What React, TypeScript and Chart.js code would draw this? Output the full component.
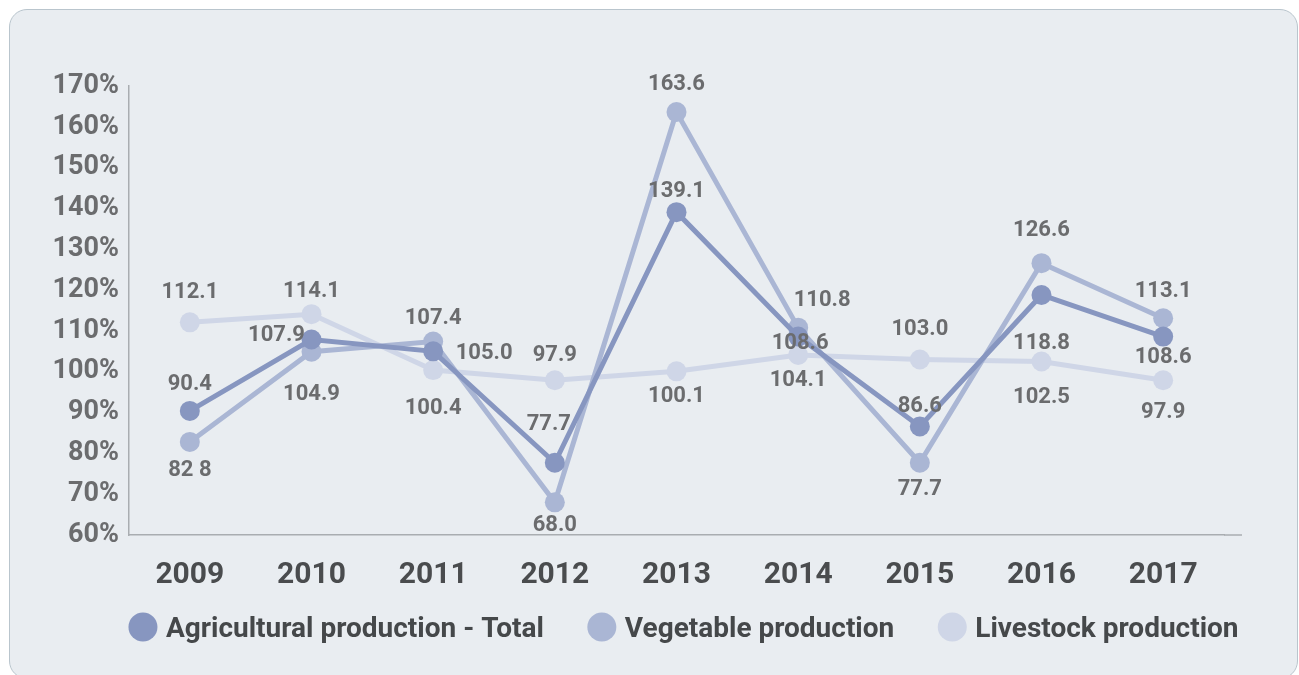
import React, { useEffect, useRef } from "react";
import { Chart, registerables } from "chart.js";

Chart.register(...registerables);

const years = ["2009", "2010", "2011", "2012", "2013", "2014", "2015", "2016", "2017"];
const totalValues = [90.4, 107.9, 105.0, 77.7, 139.1, 108.6, 86.6, 118.8, 108.6];
const vegetableValues = [82.8, 104.9, 107.4, 68.0, 163.6, 110.8, 77.7, 126.6, 113.1];
const livestockValues = [112.1, 114.1, 100.4, 97.9, 100.1, 104.1, 103.0, 102.5, 97.9];
const seriesNames = ["Agricultural production - Total", "Vegetable production", "Livestock production"];
const yMin = 60;
const yMax = 170;
const yStep = 10;
// label text overrides as printed in the source
const labelTextOverrides: Record<string, string> = { "1-0": "82 8" };

const seriesColors = ["#8796c0", "#aab6d4", "#cfd6e7"];

// label placement relative to each point (dx, dy in px)
const labelOffsets: number[][][] = [
  [[0, -29], [-35, -6], [51, 0], [-6, -41], [0, -23], [2, 4], [0, -22], [0, 46], [0, 18]],
  [[0, 26], [0, 40], [0, -25], [0, 21], [0, -30], [24, -30], [0, 24], [0, -35], [0, -29]],
  [[0, -32], [0, -25], [0, 36], [0, -27], [0, 23], [0, 23], [0, -32], [0, 34], [0, 30]],
];

const FONT = "Roboto, 'Open Sans', sans-serif";
const AXIS_COLOR = "#a9adb1";

const axisExtensionPlugin = {
  id: "axisExtension",
  afterDraw(chart: any) {
    const ctx = chart.ctx;
    const a = chart.chartArea;
    ctx.save();
    ctx.strokeStyle = AXIS_COLOR;
    ctx.lineWidth = 1.5;
    ctx.beginPath();
    ctx.moveTo(a.right, a.bottom);
    ctx.lineTo(a.right + 18, a.bottom);
    ctx.stroke();
    ctx.restore();
  },
};

const dataLabelPlugin = {
  id: "dataLabels",
  afterDatasetsDraw(chart: any) {
    const ctx = chart.ctx;
    ctx.save();
    const size = 22;
    ctx.font = `bold ${size}px ${FONT}`;
    ctx.fillStyle = "#6b6c6e";
    ctx.textAlign = "center";
    ctx.textBaseline = "alphabetic";
    chart.data.datasets.forEach((ds: any, di: number) => {
      const meta = chart.getDatasetMeta(di);
      meta.data.forEach((pt: any, i: number) => {
        const [dx, dy] = labelOffsets[di][i];
        const v = ds.data[i] as number;
        const text = labelTextOverrides[`${di}-${i}`] ?? v.toFixed(1);
        ctx.fillText(text, pt.x + dx, pt.y + dy + size * 0.36);
      });
    });
    ctx.restore();
  },
};

const legendPlugin = {
  id: "customLegend",
  afterDraw(chart: any) {
    const ctx = chart.ctx;
    const area = chart.chartArea;
    ctx.save();
    const size = 28;
    ctx.font = `bold ${size}px ${FONT}`;
    const r = 14.5;
    const textGap = 23;
    const itemGap = 58;
    const ds = chart.data.datasets;
    const widths = ds.map((d: any) => ctx.measureText(d.label).width);
    let total = 0;
    widths.forEach((w: number, i: number) => {
      total += r + textGap + w;
      if (i < widths.length - 1) total += itemGap - r;
    });
    const cy = area.bottom + 92;
    let x = (area.left + area.right) / 2 + 7 - total / 2;
    ds.forEach((d: any, i: number) => {
      const cx = x + r;
      ctx.beginPath();
      ctx.arc(cx, cy, r, 0, Math.PI * 2);
      ctx.fillStyle = d.pointBackgroundColor;
      ctx.fill();
      ctx.fillStyle = "#45484a";
      ctx.textAlign = "left";
      ctx.textBaseline = "alphabetic";
      ctx.fillText(d.label, cx + textGap, cy + size * 0.36);
      x = cx + textGap + widths[i] + itemGap - r;
    });
    ctx.restore();
  },
};

export default function App() {
  const canvasRef = useRef<HTMLCanvasElement | null>(null);

  useEffect(() => {
    document.documentElement.style.overflow = "hidden";
    const canvas = canvasRef.current;
    if (!canvas) return;
    const valueSets = [totalValues, vegetableValues, livestockValues];
    const chart = new Chart(canvas, {
      type: "line",
      data: {
        labels: years,
        datasets: valueSets.map((vals, i) => ({
          label: seriesNames[i],
          data: vals,
          borderColor: seriesColors[i],
          backgroundColor: seriesColors[i],
          pointBackgroundColor: seriesColors[i],
          pointBorderColor: seriesColors[i],
          pointRadius: 10,
          pointHoverRadius: 10,
          pointBorderWidth: 0,
          borderWidth: 5,
          tension: 0,
          fill: false,
          clip: false as any,
        })),
      },
      options: {
        animation: false,
        responsive: true,
        maintainAspectRatio: false,
        layout: { padding: { top: 76, right: 73, bottom: 93, left: 0 } },
        plugins: {
          legend: { display: false },
          tooltip: { enabled: false },
          title: { display: false },
        },
        scales: {
          x: {
            offset: true,
            grid: { display: false, drawTicks: false },
            border: { display: true, color: AXIS_COLOR, width: 1.5 },
            ticks: {
              color: "#4a4c4e",
              font: { family: FONT, size: 30, weight: "bold" },
              padding: 22,
            },
            afterFit: (scale: any) => {
              scale.height = 50;
            },
          },
          y: {
            min: yMin,
            max: yMax,
            grid: { display: false, drawTicks: false },
            border: { display: true, color: AXIS_COLOR, width: 1.5 },
            ticks: {
              stepSize: yStep,
              color: "#6b6c6e",
              font: { family: FONT, size: 27, weight: "bold" },
              padding: 10,
              callback: (v: any) => `${v}%`,
            },
            afterFit: (scale: any) => {
              scale.width = 119;
            },
          },
        },
      },
      plugins: [dataLabelPlugin, legendPlugin, axisExtensionPlugin],
    });
    return () => chart.destroy();
  }, []);

  return (
    <div
      style={{
        position: "absolute",
        left: 9,
        top: 9,
        width: 1289,
        height: 670,
        boxSizing: "border-box",
        border: "1px solid #b9c5cd",
        borderRadius: 18,
        background: "#e9edf1",
        overflow: "hidden",
      }}
    >
      <div style={{ position: "relative", width: 1287, height: 668 }}>
        <canvas ref={canvasRef} />
      </div>
    </div>
  );
}
